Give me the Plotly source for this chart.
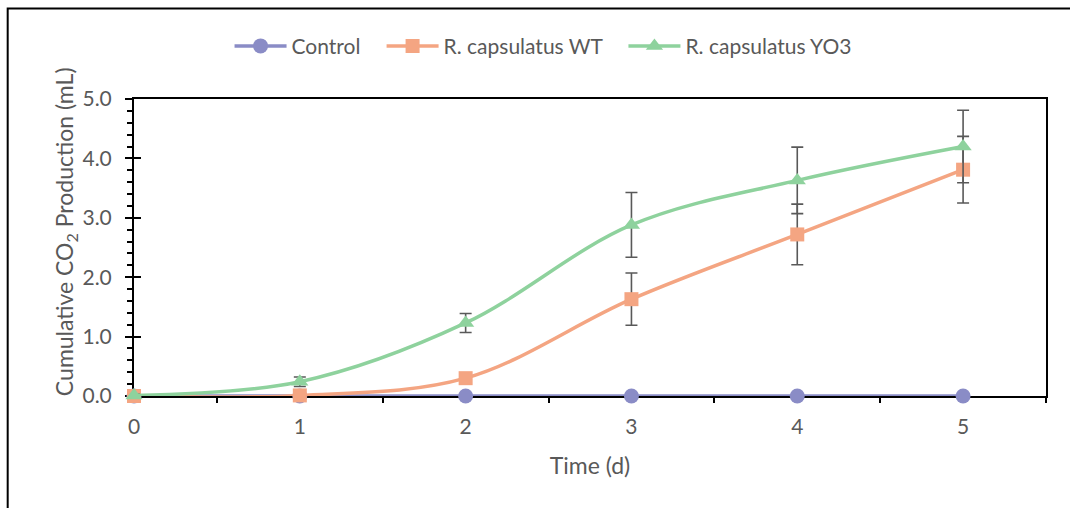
import plotly.graph_objects as go

# Cumulative CO2 production over time for the three treatments
days = [0, 1, 2, 3, 4, 5]
control = [0, 0, 0, 0, 0, 0]
wt = [0.0, 0.01, 0.30, 1.63, 2.72, 3.81]
wt_err = [0.0, 0.0, 0.03, 0.44, 0.51, 0.56]
yo3 = [0.01, 0.24, 1.23, 2.88, 3.63, 4.20]
yo3_err = [0.02, 0.08, 0.16, 0.545, 0.56, 0.61]

x_ticks = [0, 1, 2, 3, 4, 5]
y_ticks = [0, 1, 2, 3, 4, 5]

FONT = "Lato"
GREY = "#595959"
ERR = "#595959"
FS = 21
TITLE_FS = 23
PAD = "\u00a0" * 3  # extra room between legend entries

fig = go.Figure()

series = [
    ("Control", control, None, "#8A8CC6", "circle", 15),
    ("R. capsulatus WT", wt, wt_err, "#F4A582", "square", 14),
    ("R. capsulatus YO3", yo3, yo3_err, "#8ED29D", "triangle-up", 15),
]
for name, vals, errs, color, symbol, size in series:
    kw = {}
    if errs is not None:
        kw["error_y"] = dict(type="data", array=errs, visible=True,
                             color=ERR, thickness=1.6, width=6)
    fig.add_trace(go.Scatter(
        x=days, y=vals, name=name + PAD, mode="lines+markers",
        line=dict(color=color, width=3.5, shape="spline", smoothing=1),
        marker=dict(symbol=symbol, size=size, color=color),
        cliponaxis=False, **kw))

# invisible trace carrying the inward half of the y ticks
fig.add_trace(go.Scatter(x=[None], y=[None], yaxis="y2", showlegend=False,
                         hoverinfo="skip"))

fig.update_layout(
    width=1070, height=508,
    margin=dict(l=134, r=24, t=99, b=112),
    paper_bgcolor="white", plot_bgcolor="white",
    font=dict(family=FONT, size=FS, color=GREY),
    showlegend=True,
    legend=dict(orientation="h", xref="container", yref="container",
                x=0.515, xanchor="center", y=0.909, yanchor="middle",
                font=dict(family=FONT, size=FS, color=GREY),
                itemwidth=52, tracegroupgap=0),
    xaxis=dict(
        range=[0, 5.5], tickvals=x_ticks, ticks="", showgrid=False,
        zeroline=False, showline=True, linecolor="black", linewidth=2,
        mirror=True, layer="below traces",
        ticklabelstandoff=11,
        tickfont=dict(family=FONT, size=FS, color=GREY),
        minor=dict(tick0=0.5, dtick=1, ticks="outside", ticklen=5,
                   tickcolor="black", tickwidth=2, showgrid=False),
        title=dict(text="Time (d)", standoff=21,
                   font=dict(family=FONT, size=TITLE_FS, color=GREY)),
    ),
    yaxis=dict(
        range=[0, 5], tickvals=y_ticks, tickformat=".1f", ticks="outside",
        ticklen=7, tickwidth=2, tickcolor="black", showgrid=False,
        zeroline=False, showline=True, linecolor="black", linewidth=2,
        mirror=True, layer="below traces", ticklabelstandoff=9,
        tickfont=dict(family=FONT, size=FS, color=GREY),
        minor=dict(dtick=0.2, ticks="outside", ticklen=5, tickcolor="black",
                   tickwidth=1.5, showgrid=False),
    ),
    yaxis2=dict(
        range=[0, 5], tickvals=y_ticks, overlaying="y", side="left",
        ticks="inside", ticklen=7, tickwidth=2, tickcolor="black",
        showticklabels=False, showgrid=False, zeroline=False,
        showline=False, layer="below traces",
    ),
)

# y-axis title, placed by hand so it sits a little above the plot centre
fig.add_annotation(
    text="Cumulative CO<sub>2</sub> Production (mL)",
    xref="paper", yref="paper", x=-0.0757, y=0.555,
    xanchor="center", yanchor="middle", textangle=-90, showarrow=False,
    font=dict(family=FONT, size=TITLE_FS, color=GREY))

# chart frame
fig.add_shape(type="rect", xref="paper", yref="paper",
              x0=-0.1385, x1=1.05, y0=-0.45, y1=1.305,
              line=dict(color="black", width=2), fillcolor="rgba(0,0,0,0)",
              layer="below")

fig.write_html("out.html")
